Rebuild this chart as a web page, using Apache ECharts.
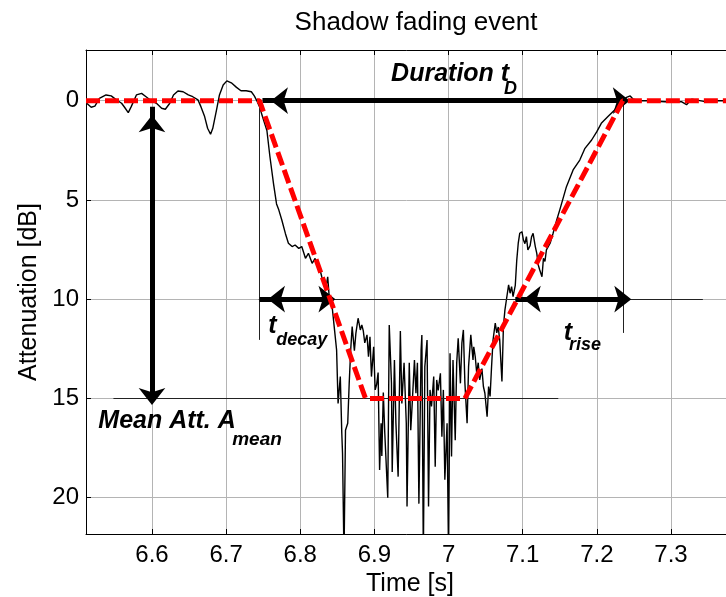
<!DOCTYPE html>
<html>
<head>
<meta charset="utf-8">
<script src="https://cdn.jsdelivr.net/npm/echarts@6/dist/echarts.min.js"></script>
<style>
  html, body { margin: 0; padding: 0; background: #ffffff; }
  #chart { width: 726px; height: 597px; }
</style>
</head>
<body>
<div id="chart"></div>
<script>
// Measured attenuation trace during the shadowing event
const timeS = [
  6.512, 6.518, 6.523, 6.529, 6.538, 6.545, 6.552, 6.559, 6.563, 6.568,
  6.572, 6.579, 6.586, 6.592, 6.599, 6.606, 6.613, 6.618, 6.624, 6.629,
  6.635, 6.642, 6.649, 6.655, 6.662, 6.666, 6.671, 6.675, 6.679, 6.682,
  6.687, 6.691, 6.696, 6.701, 6.707, 6.714, 6.720, 6.727, 6.734, 6.738,
  6.742,
  6.745, 6.749, 6.755, 6.759, 6.764, 6.768, 6.771, 6.775, 6.780, 6.784,
  6.789, 6.793, 6.798, 6.802, 6.807, 6.811, 6.816, 6.820, 6.825, 6.829,
  6.834, 6.837, 6.839, 6.843, 6.846,
  6.849, 6.851, 6.854, 6.856, 6.857, 6.859, 6.861, 6.864, 6.866, 6.868,
  6.870, 6.873, 6.875, 6.878, 6.881, 6.883, 6.885, 6.887, 6.890, 6.892,
  6.894, 6.896, 6.899, 6.901, 6.903, 6.905, 6.907, 6.909, 6.910, 6.912,
  6.914, 6.918, 6.920, 6.923, 6.924, 6.927, 6.929, 6.932, 6.935, 6.937,
  6.940, 6.943, 6.944, 6.947, 6.949, 6.951, 6.954, 6.956, 6.958, 6.960,
  6.963, 6.964, 6.966, 6.968, 6.971, 6.973, 6.975, 6.977, 6.980, 6.982,
  6.984, 6.986, 6.989, 6.991, 6.993, 6.995, 6.998, 7.000, 7.002, 7.004,
  7.006, 7.009, 7.011, 7.013, 7.016, 7.018, 7.020, 7.022, 7.025, 7.027,
  7.030, 7.033, 7.034, 7.036, 7.038, 7.040, 7.042, 7.045, 7.047, 7.049,
  7.052, 7.054, 7.056, 7.058, 7.060, 7.063, 7.065, 7.067, 7.069, 7.072,
  7.074, 7.076, 7.078, 7.081, 7.083, 7.085, 7.087, 7.090, 7.092, 7.094,
  7.096, 7.099, 7.101, 7.103, 7.105, 7.107, 7.110, 7.112, 7.114, 7.117,
  7.119, 7.121, 7.123, 7.126, 7.128, 7.130, 7.132, 7.137, 7.141, 7.146,
  7.150, 7.159, 7.168, 7.177, 7.184, 7.193, 7.200, 7.206, 7.215, 7.224,
  7.233, 7.240, 7.245, 7.249, 7.259, 7.269, 7.292, 7.314, 7.321, 7.328,
  7.346, 7.355, 7.373
];
const attenuationDb = [
  0.13, 0.33, 0.27, -0.12, -0.29, -0.24, -0.04, 0.13, 0.33, 0.6,
  0.3, -0.29, -0.37, -0.2, 0, 0.13, 0.38, 0.43, 0.13, -0.29,
  -0.49, -0.45, -0.29, -0.2, -0.04, 0.3, 0.8, 1.39, 1.69, 1.39,
  0.47, -0.29, -0.79, -1.0, -0.9, -0.67, -0.5, -0.5, -0.45, -0.24,
  0.05,
  0.3, 0.8, 1.5, 2.8, 4.2, 5.2, 5.5, 6.0, 6.7, 7.18,
  7.35, 7.27, 7.44, 7.35, 7.94, 7.69, 8.19, 7.95, 8.28, 8.87,
  9.54, 8.87, 9.87, 10.38, 11.47,
  12.56, 15.25, 13.9, 16.75, 17.76, 23, 16.6, 16.25, 14.24, 12.56,
  11.38, 12.6, 11.72, 10.96, 11.55, 11.3, 11.6, 12.2, 11.8, 12.9,
  11.9, 13.9, 12.4, 14.57, 14.3, 13.7, 18.6, 16.25, 17.9, 14.7,
  16.75, 20.0, 11.3, 14.24, 18.7, 13.06, 16.25, 18.94, 11.6, 15.25,
  13.2, 16.25, 20.45, 13.2, 16.6, 15.25, 13.06, 14.74, 13.2, 20.3,
  12.56, 11.8, 23, 13.4, 12.06, 20.45, 14.57, 15.4, 13.9, 18.44,
  14.07, 14.6, 13.73, 16.93, 14.57, 19.1, 16.25, 23, 12.73, 17.93,
  13.06, 17.1, 13.2, 11.97, 14.24, 12.2, 11.55, 14.2, 16.25, 13.4,
  11.8, 13.06, 12.4, 12.9, 13.73, 13.2, 14.07, 13.5, 14.4, 14.74,
  15.92, 14.4, 14.9, 13.4, 12.06, 11.2, 11.7, 11.4, 12.06, 14.15,
  11.38, 10.55, 10.04, 9.28, 9.7, 9.37, 9.87, 9.3, 8.03, 7.18,
  6.68, 6.6, 7.02, 7.2, 6.85, 7.52, 7.3, 6.85, 6.68, 7.35,
  7.69, 8.28, 8.53, 8.87, 7.94, 8.1, 7.52, 7.18, 6.68, 6.0,
  5.5, 4.33, 3.49, 2.99, 2.4, 1.98, 1.56, 1.14, 0.8, 0.47,
  0.05, -0.17, -0.24, -0.07, 0, 0, 0.05, 0.05, 0.2, -0.08,
  0.05, 0, 0
];

// Piecewise-linear fade model: flat, decay, mean level, rise, flat
const modelTime = [6.511, 6.745, 6.888, 7.022, 7.235, 7.385];
const modelAttDb = [0, 0, 15, 15, 0, 0];

// Tick labels on both axes
const xTickValues = [6.6, 6.7, 6.8, 6.9, 7.0, 7.1, 7.2, 7.3];
const yTickValues = [0, 5, 10, 15, 20];

// Axis extents
const xRange = [6.511, 7.385];
const yRange = [-2.554, 21.83];

// Thin marker lines (time, dB) pairs
const guideLines = [
  [[6.548, 15], [7.148, 15]],
  [[6.744, 10], [7.343, 10]],
  [[6.744, 0], [6.744, 12.05]],
  [[7.235, 0], [7.235, 11.7]]
];
// Double-headed arrows (time, dB) pairs, tip to tip
const arrowLines = [
  [[6.749, 0], [7.233, 0]],
  [[6.6, 0.3], [6.6, 14.9]],
  [[6.745, 10], [6.836, 10]],
  [[7.090, 10], [7.235, 10]]
];
// Annotation texts anchored in data coordinates
const notes = [
  { text: 'Duration t', at: [6.9225, -1.35], size: 25 },
  { text: 'D', at: [7.0748, -0.59], size: 18 },
  { text: 't', at: [6.7567, 11.35], size: 25 },
  { text: 'decay', at: [6.7675, 12.07], size: 18 },
  { text: 't', at: [7.1554, 11.69], size: 25 },
  { text: 'rise', at: [7.1624, 12.32], size: 18 },
  { text: 'Mean Att. A', at: [6.5276, 16.14], size: 25 },
  { text: 'mean', at: [6.7082, 17.09], size: 19 }
];

const FONT = '"Liberation Sans", Arial, Helvetica, sans-serif';

function pickLabel(list) {
  return function (v) {
    for (const t of list) {
      if (Math.abs(v - t) < 1e-6) return String(t);
    }
    return '';
  };
}

const chart = echarts.init(document.getElementById('chart'), null, { renderer: 'canvas' });

const signalData = timeS.map((t, i) => [t, attenuationDb[i]]);
const modelData = modelTime.map((t, i) => [t, modelAttDb[i]]);

chart.setOption({
  animation: false,
  backgroundColor: '#ffffff',
  title: {
    text: 'Shadow fading event',
    left: 411,
    top: 5,
    textAlign: 'center',
    textStyle: { fontFamily: FONT, fontSize: 26, fontWeight: 'normal', color: '#000' }
  },
  grid: {
    left: 86, top: 50, bottom: 63, right: -8,
    containLabel: false,
    outerBoundsMode: 'none'
  },
  xAxis: [{
    type: 'value',
    min: xRange[0], max: xRange[1],
    minInterval: 0.1, maxInterval: 0.1,
    name: 'Time [s]',
    nameLocation: 'middle',
    nameGap: 35,
    nameTextStyle: { fontFamily: FONT, fontSize: 25, color: '#000' },
    axisLine: { show: true, onZero: false, lineStyle: { color: '#000', width: 1 } },
    axisTick: { show: true, inside: true, length: 5, lineStyle: { color: '#000' } },
    axisLabel: {
      margin: 9, fontFamily: FONT, fontSize: 24, color: '#000',
      showMinLabel: false, showMaxLabel: false,
      formatter: pickLabel(xTickValues)
    },
    splitLine: { show: true, lineStyle: { color: '#b4b4b4', width: 1 } }
  }, {
    type: 'value',
    position: 'top',
    min: xRange[0], max: xRange[1],
    minInterval: 0.1, maxInterval: 0.1,
    axisLine: { show: true, onZero: false, lineStyle: { color: '#000', width: 1 } },
    axisTick: { show: true, inside: true, length: 5, lineStyle: { color: '#000' } },
    axisLabel: { show: false },
    splitLine: { show: false }
  }],
  yAxis: {
    type: 'value',
    inverse: true,
    min: yRange[0], max: yRange[1],
    minInterval: 5, maxInterval: 5,
    name: 'Attenuation [dB]',
    nameLocation: 'middle',
    nameGap: 44,
    nameTextStyle: { fontFamily: FONT, fontSize: 25, color: '#000' },
    axisLine: { show: true, onZero: false, lineStyle: { color: '#000', width: 1 } },
    axisTick: { show: true, inside: true, length: 5, lineStyle: { color: '#000' } },
    axisLabel: {
      margin: 7, fontFamily: FONT, fontSize: 24, color: '#000',
      showMinLabel: false, showMaxLabel: false,
      formatter: pickLabel(yTickValues)
    },
    splitLine: { show: true, lineStyle: { color: '#b4b4b4', width: 1 } }
  },
  series: [
    {
      name: 'guides',
      type: 'line',
      data: [],
      z: 3,
      markLine: {
        silent: true,
        animation: false,
        symbol: ['none', 'none'],
        label: { show: false },
        lineStyle: { color: '#222', width: 1, type: 'solid' },
        emphasis: { disabled: true },
        data: guideLines.map(p => [{ coord: p[0] }, { coord: p[1] }])
      }
    },
    {
      name: 'signal',
      type: 'line',
      data: signalData,
      showSymbol: false,
      symbol: 'none',
      clip: true,
      z: 4,
      lineStyle: { color: '#000', width: 1.4 }
    },
    {
      name: 'model',
      type: 'line',
      data: modelData,
      showSymbol: false,
      symbol: 'none',
      z: 5,
      lineStyle: { color: '#ff0000', width: 5, type: [14, 5] }
    },
    {
      name: 'arrows',
      type: 'line',
      data: [],
      z: 6,
      markLine: {
        silent: true,
        animation: false,
        symbol: ['arrow', 'arrow'],
        symbolSize: [20, 17],
        symbolOffset: [[0, 8.5], [0, -8.5]],
        label: { show: false },
        lineStyle: { color: '#000', width: 5, type: 'solid' },
        itemStyle: { color: '#000' },
        emphasis: { disabled: true },
        data: arrowLines.map(p => [{ coord: p[0] }, { coord: p[1] }])
      }
    }
  ]
});

// Bold italic annotation labels placed through the axes' own scales
chart.setOption({
  graphic: notes.map(n => {
    const p = chart.convertToPixel({ gridIndex: 0 }, n.at);
    return {
      type: 'text',
      x: p[0],
      y: p[1],
      z: 100,
      silent: true,
      style: {
        text: n.text,
        font: 'italic bold ' + n.size + 'px ' + FONT,
        fill: '#000',
        align: 'left',
        verticalAlign: 'middle'
      }
    };
  })
});
</script>
</body>
</html>
